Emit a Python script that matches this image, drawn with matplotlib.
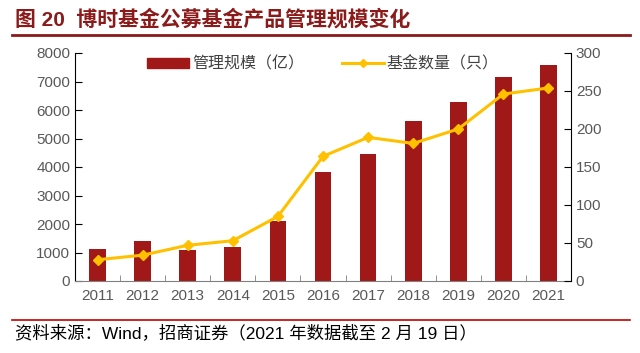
import matplotlib.pyplot as plt
import numpy as np
from matplotlib.lines import Line2D

plt.rcParams['font.family'] = ['Liberation Sans', 'Noto Sans CJK SC', 'DejaVu Sans']

# 数据
years = ['2011', '2012', '2013', '2014', '2015', '2016', '2017', '2018', '2019', '2020', '2021']
aum = [1120, 1410, 1100, 1180, 2110, 3810, 4450, 5620, 6270, 7170, 7580]
fund_count = [28, 34, 47, 53, 85, 164, 189, 181, 200, 246, 254]
left_ticks = [0, 1000, 2000, 3000, 4000, 5000, 6000, 7000, 8000]
right_ticks = [0, 50, 100, 150, 200, 250, 300]

bar_color = '#A01818'
line_color = '#FFC000'
tick_color = '#595959'

fig = plt.figure(figsize=(6.4, 3.53), dpi=100)
ax = fig.add_axes([75 / 640, 1 - 281 / 353, (571 - 75) / 640, 228 / 353])
ax2 = ax.twinx()

x = np.arange(len(years))
ax.bar(x, aum, width=0.37, color=bar_color, zorder=2)
ax2.plot(x, fund_count, color=line_color, lw=2.2, marker='D', ms=5,
         markerfacecolor=line_color, markeredgecolor=line_color, zorder=3)

ax.set_xlim(-0.5, len(years) - 0.5)
ax.set_ylim(0, 8000)
ax2.set_ylim(0, 300)
ax.set_yticks(left_ticks)
ax2.set_yticks(right_ticks)
ax.set_xticks(x)
ax.set_xticklabels(years)
ax.set_xticks(np.arange(0.5, len(years) - 0.5, 1), minor=True)

# 坐标轴样式
for a in (ax, ax2):
    a.spines['top'].set_visible(False)
ax.spines['right'].set_visible(False)
ax2.spines['left'].set_visible(False)
ax2.spines['bottom'].set_visible(False)
ax.spines['bottom'].set_color('#808080')
ax.spines['left'].set_color('black')
ax2.spines['right'].set_color('black')
ax.set_zorder(ax2.get_zorder() - 1)
ax.patch.set_visible(False)

ax.tick_params(axis='y', direction='in', length=5, colors='black', labelcolor=tick_color, labelsize=11)
ax2.tick_params(axis='y', direction='in', length=5, colors='black', labelcolor=tick_color, labelsize=11)
ax.tick_params(axis='x', which='major', length=0, labelcolor=tick_color, labelsize=11, pad=6)
ax.tick_params(axis='x', which='minor', direction='in', length=4, color='#808080')

# 图例
handles = [plt.Rectangle((0, 0), 1, 1, color=bar_color),
           Line2D([0], [0], color=line_color, lw=2.2, marker='D', ms=4)]
ax2.legend(handles, ['管理规模（亿）', '基金数量（只）'], loc='upper center',
           bbox_to_anchor=(0.5, 1.05), ncol=2, frameon=False, fontsize=11.5,
           handlelength=2.6, handleheight=0.6, columnspacing=2.4, handletextpad=0.2,
           labelcolor='#404040')

# 标题与注释
fig.text(15 / 640, 1 - 19 / 353, '图 20  博时基金公募基金产品管理规模变化', fontsize=15,
         fontweight='bold', color='#8B1A1A', va='center')
fig.add_artist(Line2D([12 / 640, 630 / 640], [1 - 35 / 353, 1 - 35 / 353], color='#8B1A1A', lw=2))
fig.add_artist(Line2D([12 / 640, 630 / 640], [1 - 320 / 353, 1 - 320 / 353], color='#C00000', lw=1.2))
fig.text(15 / 640, 1 - 333 / 353, '资料来源：Wind，招商证券（2021 年数据截至 2 月 19 日）', fontsize=12.5,
         color='black', va='center')

fig.savefig('out.png', dpi=100)
